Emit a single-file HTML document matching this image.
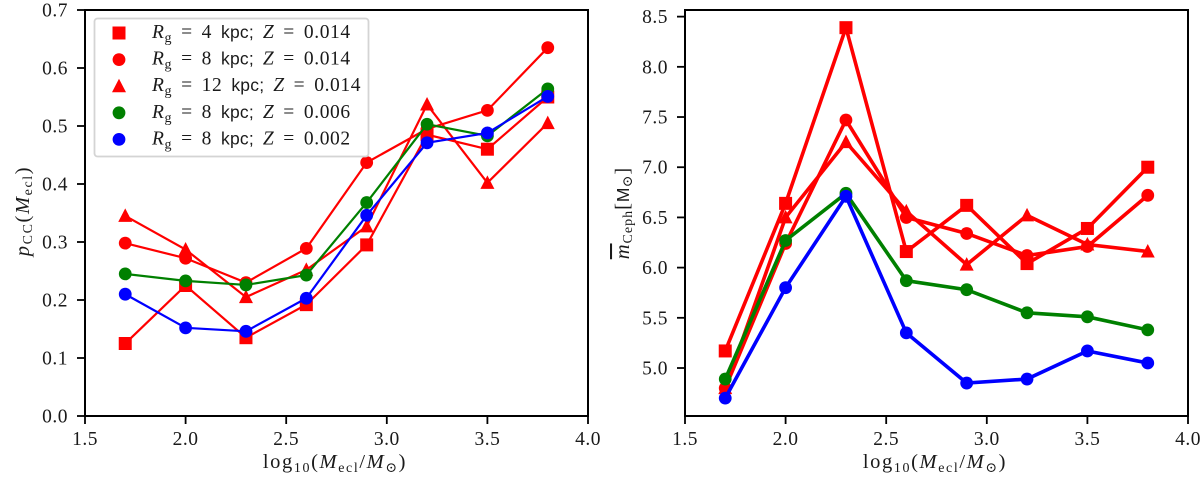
<!DOCTYPE html>
<html lang="en">
<head>
<meta charset="utf-8">
<title>Cepheid charts</title>
<style>
html,body{margin:0;padding:0;background:#fff;}
svg{display:block;}
text{font-family:"Liberation Serif","DejaVu Serif",serif;fill:#1a1a1a;}
.sans{font-family:"Liberation Sans","DejaVu Sans",sans-serif;font-size:17.5px;letter-spacing:0.2px;}
</style>
</head>
<body>
<svg id="fig" xmlns="http://www.w3.org/2000/svg" width="1200" height="478" viewBox="0 0 1200 478"></svg>
<script>
const xValues = [1.7, 2.0, 2.3, 2.6, 2.9, 3.2, 3.5, 3.8];
const xTicks = [1.5, 2.0, 2.5, 3.0, 3.5, 4.0];
const leftYTicks = [0.0, 0.1, 0.2, 0.3, 0.4, 0.5, 0.6, 0.7];
const rightYTicks = [5.0, 5.5, 6.0, 6.5, 7.0, 7.5, 8.0, 8.5];

const leftSquare = [0.125, 0.225, 0.135, 0.192, 0.295, 0.485, 0.460, 0.550];
const leftCircle = [0.298, 0.272, 0.230, 0.289, 0.437, 0.495, 0.527, 0.635];
const leftTriangle = [0.345, 0.287, 0.205, 0.252, 0.327, 0.537, 0.402, 0.505];
const leftGreen = [0.245, 0.233, 0.226, 0.243, 0.368, 0.503, 0.483, 0.564];
const leftBlue = [0.210, 0.152, 0.146, 0.203, 0.346, 0.471, 0.488, 0.551];

const rightSquare = [5.17, 6.64, 8.39, 6.16, 6.62, 6.04, 6.39, 7.00];
const rightCircle = [4.80, 6.24, 7.47, 6.50, 6.34, 6.12, 6.21, 6.72];
const rightTriangle = [4.80, 6.50, 7.25, 6.56, 6.03, 6.52, 6.23, 6.16];
const rightGreen = [4.89, 6.27, 6.74, 5.87, 5.78, 5.55, 5.51, 5.38];
const rightBlue = [4.70, 5.80, 6.71, 5.35, 4.85, 4.89, 5.17, 5.05];

const NS = 'http://www.w3.org/2000/svg';
const fig = document.getElementById('fig');

function mk(tag, attrs, parent) {
  const el = document.createElementNS(NS, tag);
  for (const k in attrs) el.setAttribute(k, attrs[k]);
  (parent || fig).appendChild(el);
  return el;
}

function marker(shape, cx, cy, color, parent) {
  if (shape === 'square') {
    return mk('rect', {x: cx - 6.5, y: cy - 6.5, width: 13, height: 13, fill: color}, parent);
  }
  if (shape === 'triangle') {
    return mk('polygon', {points: `${cx},${cy - 7.5} ${cx + 7},${cy + 6} ${cx - 7},${cy + 6}`, fill: color}, parent);
  }
  return mk('circle', {cx: cx, cy: cy, r: 6.4, fill: color}, parent);
}

function drawPanel(cfg) {
  const g = mk('g', {});
  
  
  const sx = v => cfg.left + (v - 1.5) / 2.5 * (cfg.right - cfg.left);
  const sy = v => cfg.bottom - (v - cfg.yMin) / (cfg.yMax - cfg.yMin) * (cfg.bottom - cfg.top);

  cfg.series.forEach(s => {
    const sg = mk('g', {}, g);
    
    
    const line = mk('polyline', {
      points: s.values.map((v, i) => sx(xValues[i]) + ',' + sy(v)).join(' '),
      fill: 'none', stroke: s.color, 'stroke-width': cfg.lineWidth, 'stroke-linejoin': 'miter'
    }, sg);
    
    
    s.values.forEach((v, i) => {
      const m = marker(s.shape, sx(xValues[i]), sy(v), s.color, sg);
      
      
    });
  });

  const frame = mk('rect', {
    x: cfg.left, y: cfg.top, width: cfg.right - cfg.left, height: cfg.bottom - cfg.top,
    fill: 'none', stroke: '#000', 'stroke-width': 2
  }, g);
  
  

  xTicks.forEach(t => {
    const x = sx(t);
    const tick = mk('line', {x1: x, x2: x, y1: cfg.bottom, y2: cfg.bottom + 8, stroke: '#000', 'stroke-width': 1.8}, g);
    
    
    const lab = mk('text', {x: x, y: cfg.bottom + 29, 'text-anchor': 'middle', 'font-size': 19.5, 'letter-spacing': 0.5}, g);
    lab.textContent = t.toFixed(1);
    
    
  });
  cfg.yTicks.forEach(t => {
    const y = sy(t);
    const tick = mk('line', {x1: cfg.left - 8, x2: cfg.left, y1: y, y2: y, stroke: '#000', 'stroke-width': 1.8}, g);
    
    
    const lab = mk('text', {x: cfg.left - 17, y: y + 6.5, 'text-anchor': 'end', 'font-size': 19.5, 'letter-spacing': 0.5}, g);
    lab.textContent = t.toFixed(1);
    
    
  });
}

drawPanel({
  name: 'left-panel', left: 85, right: 588, top: 10, bottom: 416,
  yMin: 0, yMax: 0.7, yTicks: leftYTicks, lineWidth: 2.2,
  series: [
    {name: 'series-rg4-z014', values: leftSquare, color: '#ff0000', shape: 'square'},
    {name: 'series-rg8-z014', values: leftCircle, color: '#ff0000', shape: 'circle'},
    {name: 'series-rg12-z014', values: leftTriangle, color: '#ff0000', shape: 'triangle'},
    {name: 'series-rg8-z006', values: leftGreen, color: '#008000', shape: 'circle'},
    {name: 'series-rg8-z002', values: leftBlue, color: '#0000ff', shape: 'circle'}
  ]
});
drawPanel({
  name: 'right-panel', left: 685, right: 1188, top: 10, bottom: 416,
  yMin: 4.522, yMax: 8.566, yTicks: rightYTicks, lineWidth: 3.6,
  series: [
    {name: 'series-rg4-z014', values: rightSquare, color: '#ff0000', shape: 'square'},
    {name: 'series-rg8-z014', values: rightCircle, color: '#ff0000', shape: 'circle'},
    {name: 'series-rg12-z014', values: rightTriangle, color: '#ff0000', shape: 'triangle'},
    {name: 'series-rg8-z006', values: rightGreen, color: '#008000', shape: 'circle'},
    {name: 'series-rg8-z002', values: rightBlue, color: '#0000ff', shape: 'circle'}
  ]
});

const legend = mk('g', {});


const legendBox = mk('rect', {x: 94.5, y: 18.5, width: 274, height: 138, rx: 3, fill: '#fff', 'fill-opacity': 0.85, stroke: '#d4d4d4', 'stroke-width': 1.8}, legend);



const legendShapes = ['square', 'circle', 'triangle', 'circle', 'circle'];
const legendColors = ['#ff0000', '#ff0000', '#ff0000', '#008000', '#0000ff'];
const legendKpc = ['4', '8', '12', '8', '8'];
const legendZ = ['0.014', '0.014', '0.014', '0.006', '0.002'];
legendShapes.forEach((shape, i) => {
  const y = 33 + i * 26.6;
  const row = mk('g', {}, legend);
  
  
  marker(shape, 119, y, legendColors[i], row);
  const t = mk('text', {x: 152, y: y + 5, 'font-size': 19.5, 'letter-spacing': 0.6, 'word-spacing': 3.5}, row);
  t.innerHTML = '<tspan font-style="italic">R</tspan><tspan font-size="14" dy="4">g</tspan>' +
    '<tspan dy="-4"> = ' + legendKpc[i] + ' </tspan><tspan class="sans">kpc;</tspan>' +
    '<tspan font-style="italic"> Z</tspan><tspan> = ' + legendZ[i] + '</tspan>';
});

function xTitle(cx) {
  const t = mk('text', {x: cx, y: 468, 'text-anchor': 'middle', 'font-size': 20.5, 'letter-spacing': 1.6});
  
  
  t.innerHTML = 'log<tspan font-size="14" dy="4">10</tspan><tspan dy="-4">(</tspan><tspan font-style="italic">M</tspan>' +
    '<tspan font-size="14" dy="4">ecl</tspan><tspan dy="-4">/</tspan><tspan font-style="italic">M</tspan>' +
    '<tspan font-size="14" dy="4">⊙</tspan><tspan dy="-4">)</tspan>';
}
xTitle(335);
xTitle(935);

const yl = mk('text', {transform: 'translate(29,211) rotate(-90)', 'text-anchor': 'middle', 'font-size': 20.5, 'letter-spacing': 1.6});


yl.innerHTML = '<tspan font-style="italic">p</tspan><tspan font-size="14" dy="3">CC</tspan><tspan dy="-3">(</tspan><tspan font-style="italic">M</tspan>' +
  '<tspan font-size="14" dy="3">ecl</tspan><tspan dy="-3">)</tspan>';

const yr = mk('text', {transform: 'translate(629,213) rotate(-90)', 'text-anchor': 'middle', 'font-size': 20.5, 'letter-spacing': 1});


yr.innerHTML = '<tspan font-style="italic" text-decoration="overline">m</tspan><tspan font-size="14" dy="3">Ceph</tspan><tspan dy="-3">[</tspan><tspan class="sans">M</tspan>' +
  '<tspan font-size="14" dy="3">⊙</tspan><tspan dy="-3">]</tspan>';
</script>
</body>
</html>
